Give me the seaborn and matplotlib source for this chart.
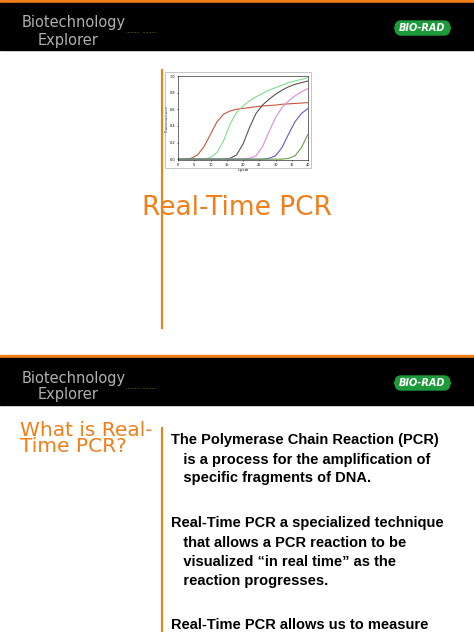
import matplotlib
matplotlib.use("Agg")
import matplotlib.pyplot as plt
from matplotlib.patches import Rectangle, FancyBboxPatch
import pandas as pd
import seaborn as sns

# Curvas de amplificacion (fluorescencia relativa)
ciclos = [0, 2, 4, 6, 8, 10, 12, 14, 16, 18, 20, 22, 24, 26, 28, 30, 32, 34, 36, 38, 40]
rojo = [0, 0, 0.01, 0.05, 0.15, 0.30, 0.45, 0.54, 0.58, 0.60, 0.61, 0.62, 0.63, 0.64, 0.645, 0.65, 0.66, 0.665, 0.67, 0.675, 0.68]
verde = [0, 0, 0, 0, 0, 0.02, 0.08, 0.22, 0.42, 0.56, 0.64, 0.70, 0.75, 0.79, 0.83, 0.86, 0.89, 0.92, 0.94, 0.96, 0.98]
gris = [0, 0, 0, 0, 0, 0, 0, 0, 0.01, 0.05, 0.18, 0.38, 0.55, 0.65, 0.72, 0.78, 0.83, 0.87, 0.90, 0.92, 0.94]
rosa = [0, 0, 0, 0, 0, 0, 0, 0, 0, 0, 0, 0.01, 0.04, 0.15, 0.33, 0.50, 0.62, 0.70, 0.76, 0.81, 0.85]
azul = [0, 0, 0, 0, 0, 0, 0, 0, 0, 0, 0, 0, 0, 0, 0.01, 0.04, 0.14, 0.30, 0.45, 0.55, 0.61]
oliva = [0, 0, 0, 0, 0, 0, 0, 0, 0, 0, 0, 0, 0, 0, 0, 0, 0, 0.01, 0.04, 0.14, 0.30]

series = {"rojo": rojo, "verde": verde, "gris": gris, "rosa": rosa, "azul": azul, "oliva": oliva}
colores = {"rojo": "#c8553d", "verde": "#7fdc8f", "gris": "#555555", "rosa": "#d98be0", "azul": "#5a5ad8", "oliva": "#6f9a4a"}

df = pd.DataFrame([(s, c, v) for s, vals in series.items() for c, v in zip(ciclos, vals)],
                  columns=["serie", "ciclo", "rfu"])

NARANJA = "#f07f1a"
W, H = 474, 632
fig = plt.figure(figsize=(W / 100, H / 100), dpi=100)
fig.patch.set_facecolor("white")

def px(x, y):
    return x / W, 1 - y / H

def cabecera(y0):
    fig.patches.append(Rectangle(px(0, y0 + 3), 1, 3 / H, color=NARANJA, transform=fig.transFigure))
    fig.patches.append(Rectangle(px(0, y0 + 50), 1, 47 / H, color="black", transform=fig.transFigure))
    fig.text(*px(22, y0 + 23), "Biotechnology", color="#b0b0b0", fontsize=10.5, va="center")
    fig.text(*px(38, y0 + 40), "Explorer", color="#b0b0b0", fontsize=10.5, va="center")
    fig.text(*px(126, y0 + 33), "·········  ·········", color="#c8a020", fontsize=3.5, va="center")
    fig.patches.append(FancyBboxPatch(px(395, y0 + 35), 55 / W, 14 / H,
                                      boxstyle="round,pad=0,rounding_size=0.012",
                                      color="#1d9a3a", transform=fig.transFigure))
    fig.text(*px(422, y0 + 28), "BIO-RAD", color="white", fontsize=7, fontweight="bold",
             style="italic", ha="center", va="center")

cabecera(0)
cabecera(355)

# linea vertical naranja diapositiva 1
fig.add_artist(plt.Line2D([162 / W, 162 / W], [1 - 70 / H, 1 - 328 / H], color=NARANJA, lw=1.5))
fig.add_artist(plt.Line2D([162 / W, 162 / W], [1 - 428 / H, 0], color=NARANJA, lw=1.5))

# grafica de amplificacion
x0, y0 = px(178, 160)
ax = fig.add_axes([x0, y0, (308 - 178) / W, (160 - 76) / H])
sns.lineplot(data=df, x="ciclo", y="rfu", hue="serie", palette=colores, lw=0.8, legend=False, ax=ax)
ax.set_xlim(0, 40)
ax.set_ylim(-0.01, 1.0)
ax.tick_params(labelsize=2.5, length=1, width=0.4, pad=1)
ax.set_xlabel("Cycle", fontsize=3, labelpad=1)
ax.set_ylabel("Fluorescence", fontsize=3, labelpad=1)
for s in ax.spines.values():
    s.set_linewidth(0.4)
fig.patches.append(Rectangle(px(165, 168), 146 / W, 96 / H, fill=False, ec="#bbbbbb", lw=0.6,
                             transform=fig.transFigure))

fig.text(*px(237, 208), "Real-Time PCR", color=NARANJA, fontsize=19, ha="center", va="center")

# diapositiva 2
fig.text(*px(20, 438), "What is Real-\nTime PCR?", color=NARANJA, fontsize=14.5, va="center",
         linespacing=0.8)
parrafos = [
    (440, "The Polymerase Chain Reaction (PCR)"), (460, "   is a process for the amplification of"),
    (478, "   specific fragments of DNA."),
    (523, "Real-Time PCR a specialized technique"), (543, "   that allows a PCR reaction to be"),
    (562, "   visualized \u201cin real time\u201d as the"), (581, "   reaction progresses."),
    (625, "Real-Time PCR allows us to measure"),
]
for y, t in parrafos:
    fig.text(*px(171, y), t, fontsize=10.5, fontweight="bold", va="center", family="Liberation Sans")

fig.savefig("out.png", dpi=100)
